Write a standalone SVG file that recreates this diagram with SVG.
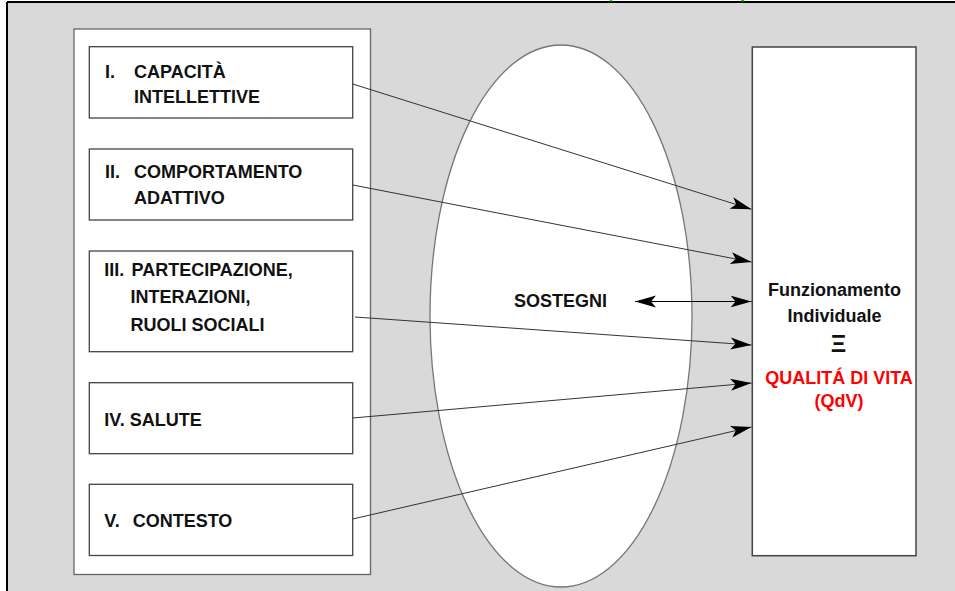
<svg xmlns="http://www.w3.org/2000/svg" width="955" height="591" viewBox="0 0 955 591">
<style>
.t{font-family:"Liberation Sans",Arial,sans-serif;font-weight:bold;font-size:18px;fill:#111}
.c{text-anchor:middle;font-size:18px}
.r{fill:#ff0000}
.box{fill:#fff;stroke:#444;stroke-width:1.3}
.con{stroke:#333;stroke-width:1;fill:none;marker-end:url(#ah)}
</style>
<defs>
<marker id="ah" markerUnits="userSpaceOnUse" markerWidth="24" markerHeight="16" refX="21" refY="7" orient="auto">
<path d="M0,1 L21,7 L0,13 L5,7 z" fill="#000"/>
</marker>
<marker id="as" markerUnits="userSpaceOnUse" markerWidth="24" markerHeight="16" refX="21" refY="7" orient="auto-start-reverse">
<path d="M0,1 L21,7 L0,13 L5,7 z" fill="#000"/>
</marker>
</defs>
<rect x="0" y="0" width="955" height="591" fill="#fff"/>
<rect x="7" y="2" width="948" height="589" fill="#d9d9d9"/>
<line x1="7" y1="2" x2="955" y2="2" stroke="#000" stroke-width="2"/>
<line x1="7" y1="2" x2="7" y2="591" stroke="#000" stroke-width="2"/>
<rect x="610" y="0" width="2" height="1.5" fill="#00cc00"/>
<rect x="741" y="0" width="3" height="1.5" fill="#00cc00"/>

<g id="outer">
<rect x="74" y="29" width="296.5" height="545.5" fill="#fff" stroke="#666" stroke-width="1.3"/>
</g>
<g id="ellipse">
<ellipse cx="561" cy="316" rx="131" ry="271" fill="#fff" stroke="#777" stroke-width="1.3"/>
</g>

<g id="n1">
<rect class="box" x="89.3" y="46.7" width="263.4" height="71.3"/>
<text class="t" x="105" y="78.3">I.</text>
<text class="t" x="134" y="78.3">CAPACITÀ</text>
<text class="t" x="134" y="103">INTELLETTIVE</text>
</g>
<g id="n2">
<rect class="box" x="89.3" y="149" width="263.4" height="71"/>
<text class="t" x="105" y="178.3">II.</text>
<text class="t" x="134" y="178.3">COMPORTAMENTO</text>
<text class="t" x="134" y="204.3">ADATTIVO</text>
</g>
<g id="n3">
<rect class="box" x="89.3" y="251" width="263.4" height="100.7"/>
<text class="t" x="104.3" y="276">III.</text>
<text class="t" x="131.5" y="276">PARTECIPAZIONE,</text>
<text class="t" x="130.5" y="303.3">INTERAZIONI,</text>
<text class="t" x="130.5" y="330.7">RUOLI SOCIALI</text>
</g>
<g id="n4">
<rect class="box" x="89.3" y="382.7" width="263.4" height="71"/>
<text class="t" x="104.3" y="426">IV. SALUTE</text>
</g>
<g id="n5">
<rect class="box" x="89.3" y="484.3" width="263.4" height="71.2"/>
<text class="t" x="104.3" y="527.3">V.</text>
<text class="t" x="132.7" y="527.3">CONTESTO</text>
</g>

<g id="sostegni">
<text class="t" x="514" y="307.3">SOSTEGNI</text>
</g>

<g id="qdv">
<rect x="752.3" y="47" width="163.7" height="508.7" fill="#fff" stroke="#444" stroke-width="1.5"/>
<text class="t c" x="834.5" y="296">Funzionamento</text>
<text class="t c" x="834.5" y="321.7">Individuale</text>
<text class="t c" x="838.5" y="351.5" style="font-size:24px">Ξ</text>
<text class="t c r" x="839" y="384">QUALITÁ DI VITA</text>
<text class="t c r" x="839" y="407.3">(QdV)</text>
</g>

<g id="connectors">
<line class="con" x1="352.7" y1="84" x2="751.5" y2="209.3"/>
<line class="con" x1="352.7" y1="185" x2="751.5" y2="262"/>
<line class="con" x1="355" y1="317" x2="751.5" y2="345"/>
<line class="con" x1="352.7" y1="418" x2="751.5" y2="383"/>
<line class="con" x1="352.7" y1="519" x2="751.5" y2="427"/>
<line x1="635" y1="301.5" x2="751.5" y2="301.5" stroke="#000" stroke-width="1.2" marker-start="url(#as)" marker-end="url(#as)"/>
</g>
</svg>
